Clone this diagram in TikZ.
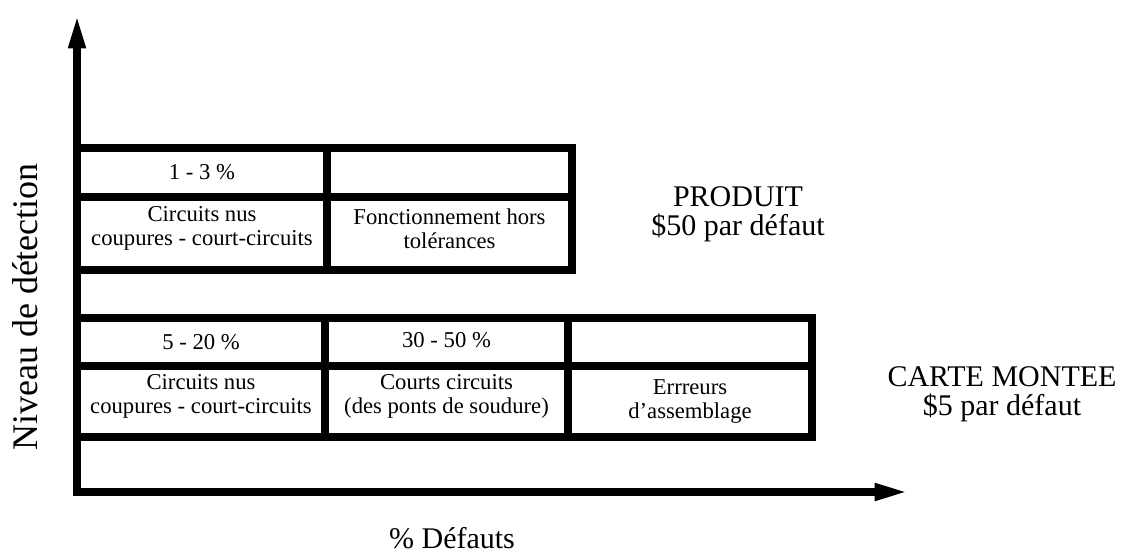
\documentclass[tikz,border=0pt]{standalone}
\usepackage{fontspec}
\setmainfont{Liberation Serif}
\usetikzlibrary{arrows.meta,fit}
\begin{document}
\begin{tikzpicture}[x=0.75pt,y=-0.75pt,
  cell/.style={draw, line width=5.5pt, inner sep=0pt, outer sep=0pt, line join=miter},
  celltext/.style={font=\fontsize{17}{18}\selectfont, align=center, inner sep=0pt},
  biglabel/.style={font=\fontsize{22.5}{22}\selectfont, align=center, inner sep=0pt},
  axisline/.style={line width=5.5pt, line join=miter,
    {Triangle[length=25pt,width=12pt]}-{Triangle[length=25pt,width=12pt]}}]
\useasboundingbox (0,0) rectangle (1123,553);
\fill[white] (0,0) rectangle (1123,553);

% upper table (PRODUIT)
\node[cell, fit={(77,148) (327,197)}] (a1) {};
\node[cell, fit={(327,148) (572,197)}] (a2) {};
\node[cell, fit={(77,197) (327,270)}] (b1) {};
\node[cell, fit={(327,197) (572,270)}] (b2) {};

% lower table (CARTE MONTEE)
\node[cell, fit={(77,318) (325,366)}] (c1) {};
\node[cell, fit={(325,318) (568,366)}] (c2) {};
\node[cell, fit={(568,318) (812,366)}] (c3) {};
\node[cell, fit={(77,366) (325,437)}] (d1) {};
\node[cell, fit={(325,366) (568,437)}] (d2) {};
\node[cell, fit={(568,366) (812,437)}] (d3) {};

% cell texts
\node[celltext] (ta1) at (a1.center) {1 - 3 \%};
\node[celltext] (tb1) at ([yshift=3.5pt]b1.center) {Circuits nus\\coupures - court-circuits};
\node[celltext] (tb2) at ([yshift=3.5pt]b2.center) {Fonctionnement hors\\tolérances};
\node[celltext] (tc1) at (c1.center) {5 - 20 \%};
\node[celltext] (tc2) at ([yshift=1.5pt]c2.center) {30 - 50 \%};
\node[celltext] (td1) at ([yshift=3.5pt]d1.center) {Circuits nus\\coupures - court-circuits};
\node[celltext] (td2) at ([yshift=3.5pt]d2.center) {Courts circuits\\(des ponts de soudure)};
\node[celltext] (td3) at ([yshift=0pt]d3.center) {Errreurs\\d'assemblage};

% side labels
\node[biglabel] (prod) at (738,214) {PRODUIT\\\$50 par défaut};
\node[biglabel] (carte) at (1002,394) {CARTE MONTEE\\\$5 par défaut};

% axes
\coordinate (ytip) at (77,15);
\coordinate (orig) at (77,492);
\coordinate (xtip) at (908,492);
\draw[axisline] (ytip) -- (orig) -- (xtip);

\node[font=\fontsize{22.5}{22}\selectfont, inner sep=0pt, anchor=base] (xlab) at (452,548) {\% Défauts};
\node[font=\fontsize{27}{27}\selectfont, inner sep=0pt, rotate=90] (ylab) at (25,307) {Niveau de détection};
\end{tikzpicture}
\end{document}
